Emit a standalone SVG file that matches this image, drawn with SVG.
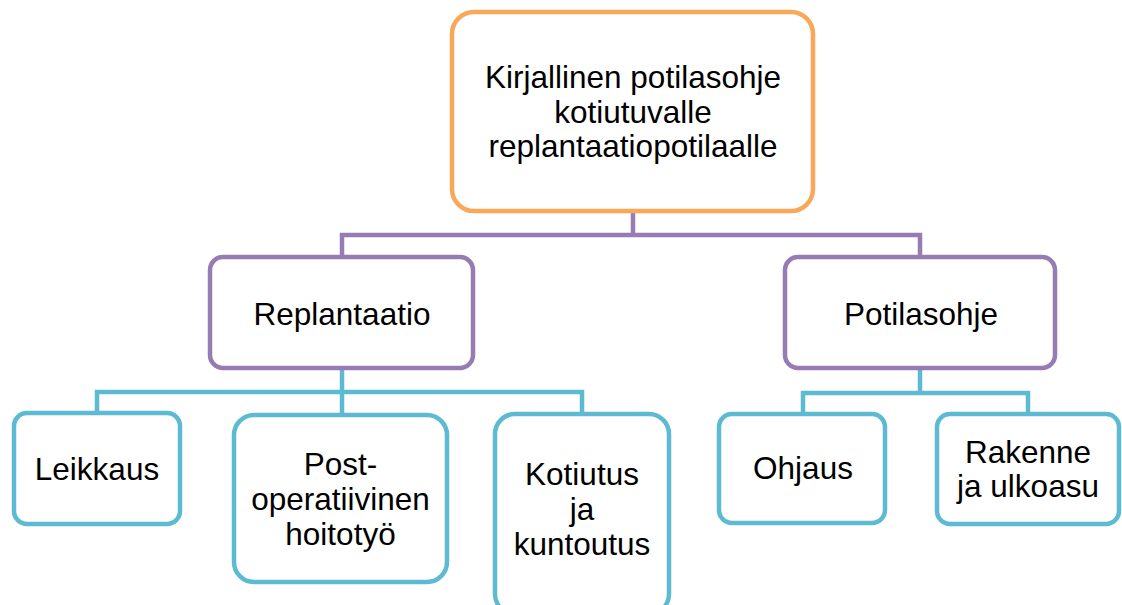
<svg xmlns="http://www.w3.org/2000/svg" width="1122" height="605" viewBox="0 0 1122 605">
<style>
.box{fill:#fff;stroke-width:4.5}
.org{stroke:#F9A85A}
.pur{stroke:#977CB4}
.cya{stroke:#5CBAD2}
.ln{fill:none;stroke-width:4.5;stroke-linejoin:miter}
text{font-family:"Liberation Sans",Arial,sans-serif;font-size:31.5px;fill:#000;text-anchor:middle}
</style>
<rect width="1122" height="605" fill="#fff"/>
<g id="connectors">
<path class="ln pur" d="M633,213 V235 M342,257 V235 H920 V257"/>
<path class="ln cya" d="M342,370 V392 M97,413 V392 H582 V414 M342,392 V415"/>
<path class="ln cya" d="M920,370 V393 M803,414 V393 H1028 V414"/>
</g>
<g id="root">
<rect class="box org" x="452" y="12" width="361" height="199" rx="22"/>
<text x="633" y="88">Kirjallinen potilasohje</text>
<text x="633" y="123">kotiutuvalle</text>
<text x="633" y="157">replantaatiopotilaalle</text>
</g>
<g id="replantaatio">
<rect class="box pur" x="210" y="257" width="263" height="111" rx="13"/>
<text x="342" y="325">Replantaatio</text>
</g>
<g id="potilasohje">
<rect class="box pur" x="785" y="257" width="270" height="111" rx="13"/>
<text x="921" y="325">Potilasohje</text>
</g>
<g id="leikkaus">
<rect class="box cya" x="14" y="413" width="166" height="111" rx="13"/>
<text x="97" y="480">Leikkaus</text>
</g>
<g id="post">
<rect class="box cya" x="234" y="415" width="213" height="167" rx="20"/>
<text x="340.5" y="475">Post-</text>
<text x="340.5" y="510">operatiivinen</text>
<text x="340.5" y="545">hoitotyö</text>
</g>
<g id="kotiutus">
<rect class="box cya" x="495" y="414" width="174" height="200" rx="20"/>
<text x="582" y="485">Kotiutus</text>
<text x="582" y="520">ja</text>
<text x="582" y="555">kuntoutus</text>
</g>
<g id="ohjaus">
<rect class="box cya" x="719" y="414" width="166" height="109" rx="13"/>
<text x="803" y="479">Ohjaus</text>
</g>
<g id="rakenne">
<rect class="box cya" x="937" y="414" width="182" height="110" rx="13"/>
<text x="1028" y="463">Rakenne</text>
<text x="1028" y="497">ja ulkoasu</text>
</g>
</svg>
